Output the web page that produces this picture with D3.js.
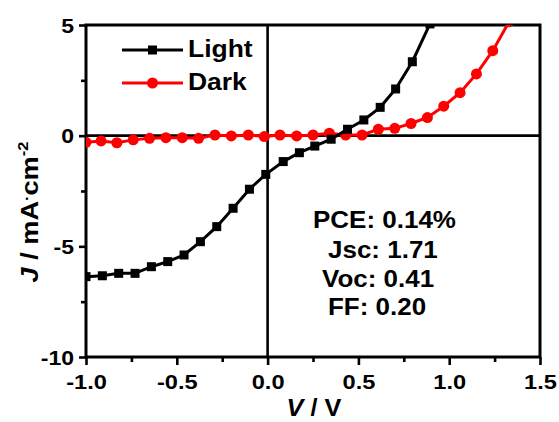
<!DOCTYPE html>
<html>
<head>
<meta charset="utf-8">
<script src="https://cdn.jsdelivr.net/npm/d3@7"></script>
<style>
  body { margin: 0; background: #fff; }
  text { font-family: "Liberation Sans", Arial, sans-serif; font-weight: bold; fill: #000; }
</style>
</head>
<body>
<div class="jvChart"></div>
<script>
// J-V curves, light vs dark
const lightV = [-1.0, -0.91, -0.82, -0.73, -0.64, -0.55, -0.46, -0.37, -0.28, -0.19, -0.10, -0.01,
  0.086, 0.175, 0.26, 0.35, 0.44, 0.53, 0.62, 0.705, 0.797, 0.894];
const lightJ = [-6.37, -6.33, -6.22, -6.22, -5.92, -5.69, -5.39, -4.79, -4.11, -3.28, -2.42, -1.75,
  -1.17, -0.77, -0.47, -0.16, 0.29, 0.71, 1.28, 2.11, 3.34, 5.05];
const darkV = [-1.0, -0.917, -0.83, -0.74, -0.65, -0.56, -0.47, -0.38, -0.29, -0.20, -0.106, -0.018,
  0.068, 0.16, 0.25, 0.34, 0.43, 0.52, 0.61, 0.70, 0.79, 0.88, 0.97, 1.06, 1.15, 1.24, 1.33];
const darkJ = [-0.30, -0.24, -0.32, -0.19, -0.12, -0.09, -0.09, -0.12, 0.03, -0.01, 0.03, -0.04,
  0.03, -0.01, 0.03, 0.11, 0.03, 0.03, 0.29, 0.33, 0.55, 0.82, 1.33, 1.94, 2.79, 3.84, 5.15];

const xTicks = [-1.0, -0.5, 0.0, 0.5, 1.0, 1.5];
const xMinor = [-0.75, -0.25, 0.25, 0.75, 1.25];
const yTicks = [-10, -5, 0, 5];
const yMinor = [-7.5, -2.5, 2.5];
const notes = ["PCE: 0.14%", "Jsc: 1.71", "Voc: 0.41", "FF: 0.20"];

const W = 559, H = 422;
const mLeft = 86, mTop = 25, mRight = 19, mBottom = 65;

// -1- svg + scales
const svg = d3.select(".jvChart").append("svg").attr("width", W).attr("height", H);
const x = d3.scaleLinear().domain([-1, 1.5]).range([mLeft, W - mRight]);
const y = d3.scaleLinear().domain([-10, 5]).range([H - mBottom, mTop]);

svg.append("clipPath").attr("id", "plotClip")
  .append("rect")
  .attr("x", mLeft).attr("y", mTop)
  .attr("width", W - mLeft - mRight).attr("height", H - mTop - mBottom);

// helper for the slightly wide lettering of the original
const label = (g, str, tx, ty, size, sx, anchor) =>
  g.append("text")
    .attr("transform", `translate(${tx},${ty}) scale(${sx},1)`)
    .attr("text-anchor", anchor || "start")
    .style("font-size", size + "px")
    .text(str);

// -2- axes
const xAxis = svg.append("g")
  .attr("transform", `translate(0,${y(-10)})`)
  .call(d3.axisBottom(x).tickValues(xTicks).tickSize(8).tickPadding(3)
    .tickFormat((d) => d.toFixed(1)));
svg.append("g")
  .attr("transform", `translate(0,${y(-10)})`)
  .call(d3.axisBottom(x).tickValues(xMinor).tickSize(5).tickFormat(""));

const yAxis = svg.append("g")
  .attr("transform", `translate(${x(-1)},0)`)
  .call(d3.axisLeft(y).tickValues(yTicks).tickSize(7).tickPadding(5)
    .tickFormat((d) => String(d)));
svg.append("g")
  .attr("transform", `translate(${x(-1)},0)`)
  .call(d3.axisLeft(y).tickValues(yMinor).tickSize(5).tickFormat(""));

svg.selectAll(".domain").remove();
svg.selectAll(".tick line").attr("stroke", "#000").attr("stroke-width", 2.6);

xAxis.selectAll("text")
  .attr("y", 0).attr("dy", 0)
  .attr("transform", "translate(0,32) scale(1.18,1)")
  .style("font-size", "20px");
yAxis.selectAll("text")
  .attr("x", 0).attr("dy", 0)
  .attr("transform", "translate(-12,7) scale(1.15,1)")
  .style("font-size", "20px");

// frame and zero lines
svg.append("rect")
  .attr("x", x(-1)).attr("y", y(5))
  .attr("width", x(1.5) - x(-1)).attr("height", y(-10) - y(5))
  .attr("fill", "none").attr("stroke", "#000").attr("stroke-width", 3);
svg.append("line")
  .attr("x1", x(-1)).attr("x2", x(1.5)).attr("y1", y(0)).attr("y2", y(0))
  .attr("stroke", "#000").attr("stroke-width", 2.6);
svg.append("line")
  .attr("x1", x(0)).attr("x2", x(0)).attr("y1", y(5)).attr("y2", y(-10))
  .attr("stroke", "#000").attr("stroke-width", 2.6);

// -3- curves
const plot = svg.append("g").attr("clip-path", "url(#plotClip)");
const line = d3.line().x((d) => x(d[0])).y((d) => y(d[1]));
const light = lightV.map((v, i) => [v, lightJ[i]]);
const dark = darkV.map((v, i) => [v, darkJ[i]]);

plot.append("path").datum(dark)
  .attr("d", line).attr("fill", "none").attr("stroke", "#ff0000").attr("stroke-width", 3);
plot.selectAll(".dk").data(dark).enter().append("circle")
  .attr("cx", (d) => x(d[0])).attr("cy", (d) => y(d[1]))
  .attr("r", 5.5).attr("fill", "#ff0000");

plot.append("path").datum(light)
  .attr("d", line).attr("fill", "none").attr("stroke", "#000").attr("stroke-width", 3);
plot.selectAll(".lt").data(light).enter().append("rect")
  .attr("x", (d) => x(d[0]) - 4.5).attr("y", (d) => y(d[1]) - 4.5)
  .attr("width", 9).attr("height", 9).attr("fill", "#000");

// -4- legend
const lg = svg.append("g");
lg.append("line").attr("x1", 122).attr("x2", 183).attr("y1", 50).attr("y2", 50)
  .attr("stroke", "#000").attr("stroke-width", 3);
lg.append("rect").attr("x", 148).attr("y", 45.5).attr("width", 9).attr("height", 9).attr("fill", "#000");
label(lg, "Light", 188, 57, 23, 1.15);
lg.append("line").attr("x1", 122).attr("x2", 183).attr("y1", 83).attr("y2", 83)
  .attr("stroke", "#ff0000").attr("stroke-width", 3);
lg.append("circle").attr("cx", 152.5).attr("cy", 83).attr("r", 5.5).attr("fill", "#ff0000");
label(lg, "Dark", 188, 90, 23, 1.15);

// -5- annotation
const noteX = [313, 328, 322, 328];
const noteY = [228, 258, 287, 315];
notes.forEach((t, i) => label(svg, t, noteX[i], noteY[i], 23, 1.13));

// axis titles
const xt = svg.append("text")
  .attr("transform", "translate(314,416) scale(1.1,1)")
  .attr("text-anchor", "middle").style("font-size", "23px");
xt.append("tspan").style("font-style", "italic").text("V");
xt.append("tspan").text(" / V");

const yt = svg.append("text")
  .attr("transform", "translate(38,212) rotate(-90) scale(1.18,1)")
  .attr("text-anchor", "middle").style("font-size", "23px");
yt.append("tspan").style("font-style", "italic").text("J");
yt.append("tspan").text(" / mA");
yt.append("tspan").style("font-size", "14px").attr("dy", -6).text("·");
yt.append("tspan").attr("dy", 6).text("cm");
yt.append("tspan").style("font-size", "14px").attr("dy", -10).text("-2");
</script>
</body>
</html>
